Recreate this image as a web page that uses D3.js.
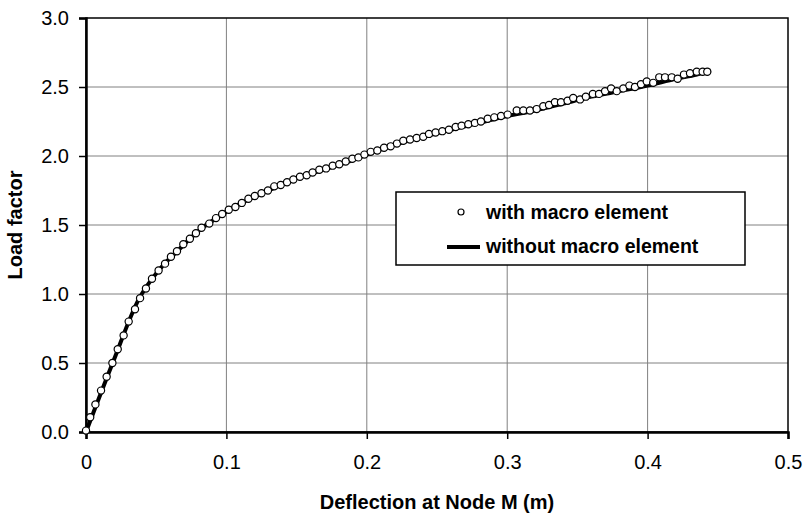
<!DOCTYPE html>
<html>
<head>
<meta charset="utf-8">
<script src="https://cdn.jsdelivr.net/npm/d3@7"></script>
<style>
  body { margin: 0; background: #fff; }
  svg { font-family: "Liberation Sans", Arial, sans-serif; }
</style>
</head>
<body>
<svg id="chart" width="806" height="516"></svg>
<script>
// deflection (m) / load factor, with macro element (markers)
const withMacro = [
  [0, 0.01], [0.003, 0.107], [0.0067, 0.2], [0.0107, 0.3], [0.0147, 0.4], [0.0188, 0.5],
  [0.0226, 0.6], [0.0268, 0.7], [0.0304, 0.8], [0.0349, 0.89], [0.0385, 0.97], [0.0427, 1.04],
  [0.047, 1.11], [0.0517, 1.17], [0.0563, 1.22], [0.0605, 1.27], [0.0648, 1.31], [0.0693, 1.36],
  [0.074, 1.4], [0.0783, 1.44], [0.0823, 1.48], [0.0878, 1.51], [0.0926, 1.55], [0.097, 1.58],
  [0.1017, 1.61], [0.1064, 1.63], [0.111, 1.66], [0.1157, 1.69], [0.1202, 1.71], [0.125, 1.73],
  [0.1296, 1.75], [0.1341, 1.78], [0.1387, 1.79], [0.1432, 1.81], [0.1477, 1.83], [0.1524, 1.85],
  [0.1572, 1.86], [0.1614, 1.88], [0.1662, 1.9], [0.171, 1.91], [0.1757, 1.93], [0.1804, 1.94],
  [0.185, 1.96], [0.1897, 1.98], [0.194, 1.99], [0.1983, 2.01], [0.2028, 2.03], [0.2075, 2.04],
  [0.2123, 2.06], [0.217, 2.07], [0.2215, 2.09], [0.226, 2.11], [0.2308, 2.12], [0.2355, 2.13],
  [0.2402, 2.14], [0.2443, 2.16], [0.249, 2.17], [0.2538, 2.18], [0.2585, 2.19], [0.2633, 2.21],
  [0.2675, 2.22], [0.2723, 2.23], [0.277, 2.24], [0.2813, 2.25], [0.2861, 2.27], [0.2908, 2.28],
  [0.2956, 2.29], [0.3003, 2.3], [0.3068, 2.33], [0.3115, 2.33], [0.3162, 2.33], [0.321, 2.34],
  [0.3257, 2.36], [0.3298, 2.37], [0.334, 2.39], [0.3383, 2.39], [0.343, 2.4], [0.347, 2.42],
  [0.3519, 2.41], [0.356, 2.43], [0.361, 2.45], [0.3654, 2.45], [0.3697, 2.47], [0.374, 2.49],
  [0.378, 2.47], [0.3827, 2.49], [0.387, 2.51], [0.391, 2.5], [0.3953, 2.52], [0.3994, 2.54],
  [0.404, 2.53], [0.4083, 2.57], [0.4124, 2.57], [0.4172, 2.57], [0.4214, 2.56], [0.4259, 2.59],
  [0.4302, 2.6], [0.435, 2.61], [0.4392, 2.61], [0.4425, 2.61]
];

// without macro element (solid line)
const withoutMacro = [
  [0, 0], [0.019, 0.5], [0.038, 0.97], [0.047, 1.11], [0.056, 1.22], [0.065, 1.31],
  [0.074, 1.4], [0.083, 1.48], [0.093, 1.55], [0.102, 1.61], [0.115, 1.68], [0.13, 1.75],
  [0.145, 1.82], [0.16, 1.87], [0.175, 1.92], [0.19, 1.97], [0.205, 2.03], [0.22, 2.08],
  [0.24, 2.14], [0.26, 2.19], [0.28, 2.24], [0.3, 2.29], [0.32, 2.33], [0.34, 2.38],
  [0.36, 2.43], [0.38, 2.47], [0.4, 2.51], [0.42, 2.56], [0.435, 2.59], [0.445, 2.62]
];

const xTicks = [0, 0.1, 0.2, 0.3, 0.4, 0.5];
const yTicks = [0, 0.5, 1.0, 1.5, 2.0, 2.5, 3.0];
const legendLabels = ["with macro element", "without macro element"];

const svg = d3.select("#chart");
const pLeft = 86, pRight = 788, pTop = 18, pBottom = 432;

const x = d3.scaleLinear().domain([0, 0.5]).range([pLeft, pRight]);
const y = d3.scaleLinear().domain([0, 3]).range([pBottom, pTop]);

// grid
svg.append("g").selectAll("line").data(xTicks.slice(1, -1)).enter().append("line")
  .attr("x1", d => x(d)).attr("x2", d => x(d)).attr("y1", pTop).attr("y2", pBottom)
  .attr("stroke", "#808080").attr("stroke-width", 1);
svg.append("g").selectAll("line").data(yTicks.slice(1, -1)).enter().append("line")
  .attr("y1", d => y(d)).attr("y2", d => y(d)).attr("x1", pLeft).attr("x2", pRight)
  .attr("stroke", "#808080").attr("stroke-width", 1);

// plot frame
svg.append("rect")
  .attr("x", pLeft).attr("y", pTop).attr("width", pRight - pLeft).attr("height", pBottom - pTop)
  .attr("fill", "none").attr("stroke", "#000").attr("stroke-width", 1.5);

// axes
const xAxis = svg.append("g")
  .attr("transform", `translate(0,${pBottom})`)
  .call(d3.axisBottom(x).tickValues(xTicks).tickSize(7).tickPadding(16)
    .tickFormat(d => d === 0 ? "0" : d3.format(".1f")(d)));
const yAxis = svg.append("g")
  .attr("transform", `translate(${pLeft},0)`)
  .call(d3.axisLeft(y).tickValues(yTicks).tickSize(7).tickPadding(10).tickFormat(d3.format(".1f")));

[xAxis, yAxis].forEach(a => {
  a.select(".domain").attr("stroke", "#000").attr("stroke-width", 2.5);
  a.selectAll(".tick line").attr("stroke", "#000").attr("stroke-width", 1.5);
  a.selectAll(".tick text").attr("fill", "#000").style("font-size", "20px")
    .style("font-family", "'Liberation Sans', Arial, sans-serif");
});

// series line
const line = d3.line().x(d => x(d[0])).y(d => y(d[1])).curve(d3.curveMonotoneX);
svg.append("path")
  .datum(withoutMacro)
  .attr("fill", "none").attr("stroke", "#000").attr("stroke-width", 4)
  .attr("d", line);

// series markers
svg.append("g").selectAll("circle").data(withMacro).enter().append("circle")
  .attr("cx", d => x(d[0])).attr("cy", d => y(d[1])).attr("r", 3.6)
  .attr("fill", "#fff").attr("stroke", "#000").attr("stroke-width", 1.2);

// axis titles
svg.append("text")
  .attr("x", (pLeft + pRight) / 2).attr("y", 509)
  .attr("text-anchor", "middle").style("font-size", "20px").style("font-weight", "bold")
  .text("Deflection at Node M (m)");
svg.append("text")
  .attr("transform", `translate(22,${(pTop + pBottom) / 2}) rotate(-90)`)
  .attr("text-anchor", "middle").style("font-size", "20px").style("font-weight", "bold")
  .text("Load factor");

// legend
const lg = svg.append("g").attr("transform", "translate(396,192)");
lg.append("rect").attr("width", 349).attr("height", 73)
  .attr("fill", "#fff").attr("stroke", "#000").attr("stroke-width", 1.5);
lg.append("circle").attr("cx", 65).attr("cy", 20).attr("r", 3)
  .attr("fill", "#fff").attr("stroke", "#000").attr("stroke-width", 1.2);
lg.append("line").attr("x1", 51).attr("x2", 84).attr("y1", 55).attr("y2", 55)
  .attr("stroke", "#000").attr("stroke-width", 4);
lg.selectAll("text").data(legendLabels).enter().append("text")
  .attr("x", 90).attr("y", (d, i) => 27 + i * 34)
  .style("font-size", "19.5px").style("font-weight", "bold")
  .text(d => d);
</script>
</body>
</html>
